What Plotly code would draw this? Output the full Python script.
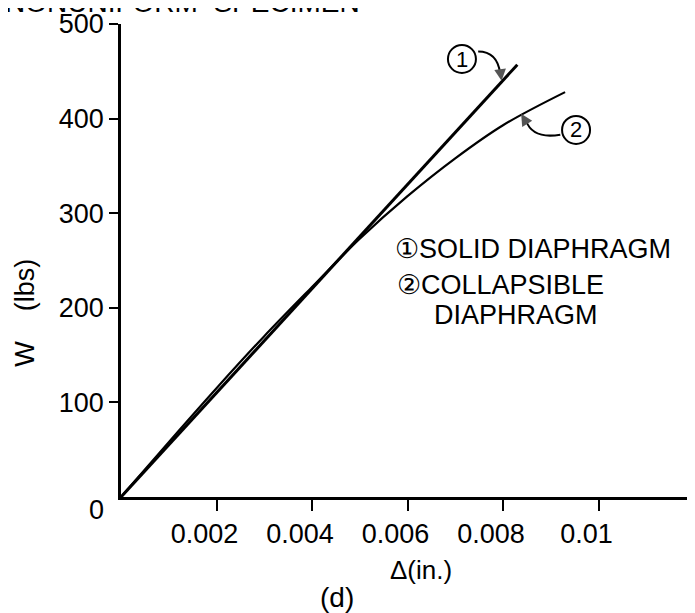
import plotly.graph_objects as go

# curve 1: solid diaphragm (straight line)
solid_x = [0, 0.0083]
solid_w = [0, 457]

# curve 2: collapsible diaphragm
coll_x = [0, 0.001, 0.002, 0.003, 0.004, 0.005, 0.006, 0.007, 0.008, 0.0093]
coll_w = [0, 58, 115, 170, 222, 273, 318, 358, 393, 428]

x_ticks = [0.002, 0.004, 0.006, 0.008, 0.010, 0.012]
x_labels = ["0.002", "0.004", "0.006", "0.008", "0.01", ""]
y_ticks = [100, 200, 300, 400, 500]
y_labels = ["100", "200", "300", "400", "500"]

FONT = "Liberation Sans, Arial, sans-serif"

fig = go.Figure()
fig.add_trace(go.Scatter(x=solid_x, y=solid_w, mode="lines",
                         line=dict(color="black", width=3), showlegend=False))
fig.add_trace(go.Scatter(x=coll_x, y=coll_w, mode="lines", line_shape="spline",
                         line=dict(color="black", width=2.2), showlegend=False))

# circled curve markers with curved leaders
def circled(num, cx, cy):
    fig.add_shape(type="circle", xref="x", yref="y", xsizemode="pixel", ysizemode="pixel",
                  xanchor=cx, yanchor=cy, x0=-14, x1=14, y0=-14, y1=14,
                  line=dict(color="black", width=2))
    fig.add_annotation(x=cx, y=cy, text=num, showarrow=False,
                       font=dict(family=FONT, size=22, color="black"))

circled("1", 0.00714, 463)
circled("2", 0.00953, 388)

# leader 1: from circle 1 curving down to line 1
fig.add_shape(type="path", xref="x", yref="y",
              path="M 0.00748,471 Q 0.00788,471 0.00794,448",
              line=dict(color="black", width=2))
fig.add_annotation(x=0.00797, y=440, ax=0.00794, ay=452, xref="x", yref="y",
                   axref="x", ayref="y", text="", showarrow=True,
                   arrowhead=2, arrowsize=1.3, arrowwidth=1.8, arrowcolor="#555")
# leader 2: from circle 2 curving to line 2
fig.add_shape(type="path", xref="x", yref="y",
              path="M 0.00920,383 Q 0.00862,378 0.00848,398",
              line=dict(color="black", width=2))
fig.add_annotation(x=0.00838, y=405, ax=0.00850, ay=395, xref="x", yref="y",
                   axref="x", ayref="y", text="", showarrow=True,
                   arrowhead=2, arrowsize=1.3, arrowwidth=1.8, arrowcolor="#555")

# legend text
fig.add_annotation(x=0.0057, y=262, xref="x", yref="y", xanchor="left", showarrow=False,
                   text="\u2460SOLID DIAPHRAGM", font=dict(family=FONT, size=27, color="black"))
fig.add_annotation(x=0.00573, y=224, xref="x", yref="y", xanchor="left", showarrow=False,
                   text="\u2461COLLAPSIBLE", font=dict(family=FONT, size=27, color="black"))
fig.add_annotation(x=0.00652, y=192, xref="x", yref="y", xanchor="left", showarrow=False,
                   text="DIAPHRAGM", font=dict(family=FONT, size=27, color="black"))

# y zero label, axis titles, caption (paper coords so they are not hidden)
fig.add_annotation(x=-0.042, y=-0.027, xref="paper", yref="paper", showarrow=False,
                   xanchor="center", yanchor="middle",
                   text="0", font=dict(family=FONT, size=27, color="black"))
fig.add_annotation(x=-0.169, y=0.39, xref="paper", yref="paper", textangle=-90, showarrow=False,
                   xanchor="center", yanchor="middle",
                   text="W    (lbs)", font=dict(family=FONT, size=27, color="black"))
fig.add_annotation(x=0.524, y=-0.154, xref="paper", yref="paper", showarrow=False,
                   xanchor="center", yanchor="middle",
                   text="\u0394(in.)", font=dict(family=FONT, size=26, color="black"))
fig.add_annotation(x=0.377, y=-0.212, xref="paper", yref="paper", showarrow=False,
                   xanchor="center", yanchor="middle",
                   text="(d)", font=dict(family=FONT, size=28, color="black"))
# title cut off at the top of the scan
fig.add_annotation(x=0.42, y=1.046, xref="paper", yref="paper", xanchor="right",
                   yanchor="middle", showarrow=False,
                   text="NONUNIFORM  SPECIMEN", font=dict(family=FONT, size=28, color="black"))

fig.update_xaxes(range=[0, 0.012], showline=True, linecolor="black", linewidth=2.5,
                 ticks="outside", ticklen=11, tickwidth=2, tickcolor="black",
                 tickvals=x_ticks, ticktext=x_labels, showgrid=False, zeroline=False,
                 ticklabelshift=-12, ticklabeloverflow="allow",
                 tickfont=dict(family=FONT, size=27, color="black"))
fig.update_yaxes(range=[0, 500], showline=True, linecolor="black", linewidth=2.5,
                 ticks="outside", ticklen=9, tickwidth=2, tickcolor="black",
                 tickvals=y_ticks, ticktext=y_labels, showgrid=False, zeroline=False,
                 ticklabeloverflow="allow",
                 tickfont=dict(family=FONT, size=27, color="black"))

# page body has an 8px margin, so size the figure to fit the window
fig.update_layout(width=687, height=605, plot_bgcolor="white", paper_bgcolor="white",
                  margin=dict(l=113, r=1, t=14, b=116))

fig.write_html("out.html")
